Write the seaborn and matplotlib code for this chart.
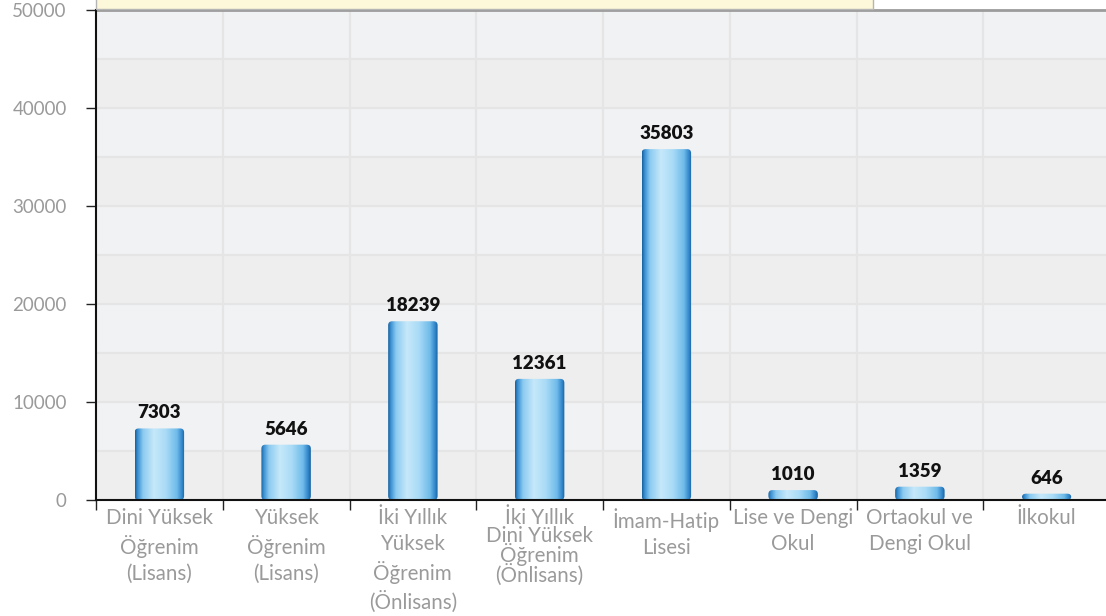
import numpy as np
import pandas as pd
import matplotlib
matplotlib.use("Agg")
import matplotlib.pyplot as plt
import seaborn as sns
from matplotlib.colors import LinearSegmentedColormap
from matplotlib.patches import FancyBboxPatch, Rectangle
from matplotlib.transforms import offset_copy

categories = [
    "Dini Yüksek\nÖğrenim\n(Lisans)",
    "Yüksek\nÖğrenim\n(Lisans)",
    "İki Yıllık\nYüksek\nÖğrenim\n(Önlisans)",
    "İki Yıllık\nDini Yüksek\nÖğrenim\n(Önlisans)",
    "İmam-Hatip\nLisesi",
    "Lise ve Dengi\nOkul",
    "Ortaokul ve\nDengi Okul",
    "İlkokul",
]
values = [7303, 5646, 18239, 12361, 35803, 1010, 1359, 646]
y_ticks = [0, 10000, 20000, 30000, 40000, 50000]

sns.set_theme(style="white")
plt.rcParams["font.family"] = ["Lato", "DejaVu Sans"]

W, H = 1106, 616
fig = plt.figure(figsize=(W / 100, H / 100), dpi=100)
x0, x1, ytop, ybot = 96, 1110, 10, 500
ax = fig.add_axes([x0 / W, (H - ybot) / H, (x1 - x0) / W, (ybot - ytop) / H])

df = pd.DataFrame({"cat": categories, "val": values})
sns.barplot(data=df, x="cat", y="val", ax=ax, color="#5aaee6", width=0.39,
            saturation=1, zorder=3)
bars = list(ax.patches)

ax.set_xlim(-0.5, 7.5)
ax.set_ylim(0, 50000)

# background bands and grid
for k in range(10):
    ax.axhspan(k * 5000, (k + 1) * 5000,
               color="#f1f2f4" if k % 2 else "#eeeeee", zorder=0, lw=0)
for k in range(1, 10):
    ax.axhline(k * 5000, color="#e5e5e5", lw=1.6, zorder=1)
for k in range(1, 8):
    ax.axvline(k - 0.5, color="#e5e5e5", lw=1.6, zorder=1)

# gradient bars
cmap = LinearSegmentedColormap.from_list("bar", [
    (0.0, "#16609f"), (0.06, "#3f93d4"), (0.16, "#8ccbf0"), (0.38, "#c6e8fa"),
    (0.62, "#a9dbf6"), (0.84, "#6fbbea"), (0.94, "#3388cb"), (1.0, "#16609f")])
grad = np.linspace(0, 1, 256).reshape(1, -1)
px_x = (x1 - x0) / 8.0
px_y = (ybot - ytop) / 50000.0
label_tr = offset_copy(ax.transData, fig=fig, x=0, y=7, units="dots")
for p in bars:
    bx, by, bw, bh = p.get_x(), p.get_y(), p.get_width(), p.get_height()
    p.set_visible(False)
    r = 4.0 / px_x
    clip = FancyBboxPatch((bx, by), bw, bh,
                          boxstyle=f"round,pad=0,rounding_size={r}",
                          mutation_aspect=px_x / px_y,
                          transform=ax.transData, facecolor="none",
                          edgecolor="none")
    ax.add_patch(clip)
    im = ax.imshow(grad, cmap=cmap, aspect="auto",
                   extent=[bx, bx + bw, by, by + bh], zorder=3,
                   interpolation="bilinear")
    im.set_clip_path(clip)
    ax.text(bx + bw / 2, by + bh, f"{int(round(bh))}", ha="center", va="bottom",
            fontsize=13.5, fontweight="heavy", color="#111111",
            transform=label_tr, zorder=5)

ax.set_xlim(-0.5, 7.5)
ax.set_ylim(0, 50000)
ax.set_xlabel("")
ax.set_ylabel("")

ax.set_yticks(y_ticks)
ax.set_yticklabels([str(v) for v in y_ticks])
ax.tick_params(axis="y", which="major", length=7, width=1, color="#222222",
               direction="out", pad=14, labelsize=13.5, labelcolor="#9a9a9a",
               left=True)
ax.set_xticks(range(len(categories)))
ax.set_xticklabels(categories)
ax.set_xticks(np.arange(-0.5, 8, 1.0), minor=True)
ax.tick_params(axis="x", which="major", length=0, pad=6, labelsize=14.8,
               labelcolor="#9a9a9a")
ax.tick_params(axis="x", which="minor", length=7, width=1, color="#222222",
               direction="out", bottom=True)
for i, lab in enumerate(ax.get_xticklabels()):
    lab.set_linespacing(0.85 if i == 3 else 1.36)
    lab.set_ha("center")

for s in ["left", "bottom"]:
    ax.spines[s].set_visible(True)
    ax.spines[s].set_color("#111111")
    ax.spines[s].set_linewidth(1.5)
ax.spines["right"].set_visible(False)
ax.spines["top"].set_visible(True)
ax.spines["top"].set_color("#9c9c9c")
ax.spines["top"].set_linewidth(2)
ax.spines["left"].set_zorder(6)
ax.spines["bottom"].set_zorder(6)

# partially visible yellow box at the top
fig.patches.append(Rectangle((x0 / W, (H - ytop + 1) / H), (873 - x0) / W, 12 / H,
                             transform=fig.transFigure, facecolor="#fdf8d9",
                             edgecolor="#b5b5b5", lw=1.0, zorder=10))

fig.savefig("out.png", dpi=100)
